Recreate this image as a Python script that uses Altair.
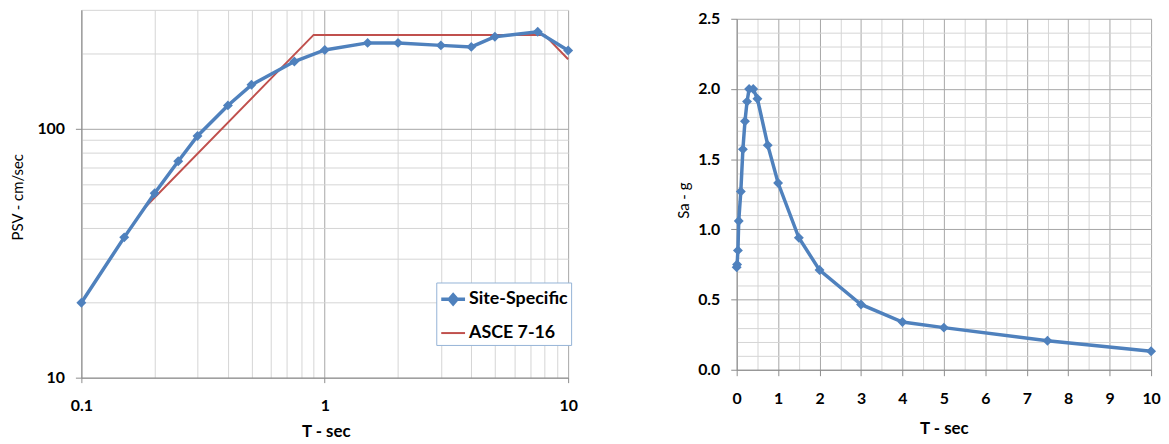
import altair as alt
import pandas as pd

# ---------------- data ----------------
series_names = ["Site-Specific", "ASCE 7-16"]
series_colors = ["#4f81bd", "#c0504d"]

# Left panel: pseudo-spectral velocity (cm/sec) vs period (sec)
t_psv = [0.1, 0.15, 0.2, 0.25, 0.3, 0.4, 0.5, 0.75, 1, 1.5, 2, 3, 4, 5, 7.5, 10]
psv_site = [20, 36.6, 55, 74, 93.5, 124, 150, 186, 207, 221, 221, 216, 213, 234, 245, 206]
t_asce = [0.18, 0.9, 8, 10]
psv_asce = [47.6, 238, 238, 190]

# Right panel: spectral acceleration (g) vs period (sec)
t_sa = [0.0, 0.01, 0.03, 0.05, 0.1, 0.15, 0.2, 0.25, 0.3, 0.4, 0.5, 0.75, 1, 1.5, 2, 3, 4, 5, 7.5, 10]
sa_site = [0.73, 0.75, 0.85, 1.06, 1.27, 1.57, 1.77, 1.91, 2.0, 2.0, 1.93, 1.60, 1.33, 0.94,
           0.71, 0.465, 0.34, 0.30, 0.207, 0.132]

# axis tick / grid values
left_x_ticks = [0.1, 0.2, 0.3, 0.4, 0.5, 0.6, 0.7, 0.8, 0.9, 1, 2, 3, 4, 5, 6, 7, 8, 9, 10]
left_y_ticks = [10, 20, 30, 40, 50, 60, 70, 80, 90, 100, 200, 300]
right_x_ticks = [i / 2 for i in range(21)]
right_y_ticks = [round(i / 10, 1) for i in range(26)]

df_site = pd.DataFrame({"T": t_psv, "PSV": psv_site, "series": series_names[0]})
df_asce = pd.DataFrame({"T": t_asce, "PSV": psv_asce, "series": series_names[1]})
df_left = pd.concat([df_site, df_asce], ignore_index=True)
df_right = pd.DataFrame({"T": t_sa, "Sa": sa_site})

# ---------------- styling ----------------
FONT = "Lato"
MAJOR = "#a6a6a6"
MINOR = "#d4d4d4"
DOMAIN = "#8c8c8c"
BLUE, RED = series_colors

LW, LH = 491, 371
RW, RH = 418, 354


def cond(test, a, b):
    return {"condition": {"test": test, "value": a}, "value": b}


left_xmaj = "datum.value == 0.1 || datum.value == 1 || datum.value == 10"
left_ymaj = "datum.value == 10 || datum.value == 100"
right_xmaj = "abs(datum.value - round(datum.value)) < 0.001"
right_ymaj = "abs(datum.value * 2 - round(datum.value * 2)) < 0.001"

common_axis = dict(
    labelFont=FONT, labelFontWeight="bold", labelColor="#000000",
    titleFont=FONT, titleColor="#000000", domainColor=DOMAIN, tickColor=DOMAIN,
    gridWidth=1, labelFlush=False, labelOverlap=False,
)

left_x = alt.X(
    "T:Q",
    scale=alt.Scale(type="log", domain=[0.1, 10], nice=False),
    axis=alt.Axis(
        values=left_x_ticks,
        labelExpr="datum.value == 0.1 ? '0.1' : datum.value == 1 ? '1' : datum.value == 10 ? '10' : ''",
        labelFontSize=cond(left_xmaj, 16, 0),
        gridColor=cond(left_xmaj, MAJOR, MINOR),
        tickOpacity=cond(left_xmaj, 1, 0),
        tickSize=5, labelPadding=15,
        title="T - sec", titleFontSize=17, titleFontWeight="bold",
        titleX=LW / 2 + 1, titleY=54, titleBaseline="middle", titleAlign="center",
        **common_axis,
    ),
)
left_y = alt.Y(
    "PSV:Q",
    scale=alt.Scale(type="log", domain=[10, 300], nice=False),
    axis=alt.Axis(
        values=left_y_ticks,
        labelExpr="datum.value == 10 ? '10' : datum.value == 100 ? '100' : ''",
        labelFontSize=cond(left_ymaj, 16, 0),
        gridColor=cond(left_ymaj, MAJOR, MINOR),
        tickOpacity=cond(left_ymaj, 1, 0),
        tickSize=6, labelPadding=11,
        title="PSV - cm/sec", titleFontSize=15, titleFontWeight="normal",
        titleX=-64.5, titleY=LH / 2 + 3, titleBaseline="middle", titleAlign="center", titleAngle=270,
        **common_axis,
    ),
)

legend_cfg = alt.Legend(
    title=None, orient="none", legendX=358, legendY=275, direction="vertical",
    padding=3, rowPadding=9, strokeColor="#95b3d7", fillColor="#ffffff",
    labelFont=FONT, labelFontSize=18, labelFontWeight="bold", labelColor="#000000",
    symbolSize=576, labelOffset=2,
)
shape_paths = [
    "M-1,0L1,0M-0.33,0L0,-0.38L0.33,0L0,0.38Z",
    "M-1,0L1,0",
]

site_line = alt.Chart(df_site).mark_line(color=BLUE, strokeWidth=3.5).encode(x=left_x, y=left_y)
site_pts = alt.Chart(df_site).mark_point(
    shape="diamond", filled=True, size=100, color=BLUE, opacity=1
).encode(x=left_x, y=left_y)
asce_line = alt.Chart(df_asce).mark_line(color=RED, strokeWidth=2).encode(x=left_x, y=left_y)

legend_layer = alt.Chart(df_left).transform_filter("false").mark_point(filled=True, opacity=1).encode(
    x=left_x, y=left_y,
    fill=alt.Fill("series:N", scale=alt.Scale(domain=series_names, range=series_colors), legend=legend_cfg),
    stroke=alt.Stroke("series:N", scale=alt.Scale(domain=series_names, range=series_colors), legend=legend_cfg),
    shape=alt.Shape("series:N", scale=alt.Scale(domain=series_names, range=shape_paths), legend=legend_cfg),
    strokeWidth=alt.StrokeWidth("series:N", scale=alt.Scale(domain=series_names, range=[3.5, 2]), legend=legend_cfg),
)

left = alt.layer(asce_line, site_line, site_pts, legend_layer).properties(width=LW, height=LH)

right_x = alt.X(
    "T:Q",
    scale=alt.Scale(domain=[0, 10], nice=False),
    axis=alt.Axis(
        values=right_x_ticks,
        labelExpr="abs(datum.value - round(datum.value)) < 0.001 ? format(datum.value, 'd') : ''",
        labelFontSize=cond(right_xmaj, 16, 0),
        gridColor=cond(right_xmaj, MAJOR, MINOR),
        tickOpacity=cond(right_xmaj, 1, 0),
        tickSize=6, labelPadding=15,
        title="T - sec", titleFontSize=17, titleFontWeight="bold",
        titleX=RW / 2, titleY=59, titleBaseline="middle", titleAlign="center",
        **common_axis,
    ),
)
right_y = alt.Y(
    "Sa:Q",
    scale=alt.Scale(domain=[0, 2.5], nice=False),
    axis=alt.Axis(
        values=right_y_ticks,
        labelExpr="abs(datum.value * 2 - round(datum.value * 2)) < 0.001 ? format(datum.value, '.1f') : ''",
        labelFontSize=cond(right_ymaj, 16, 0),
        gridColor=cond(right_ymaj, MAJOR, MINOR),
        tickOpacity=cond(right_ymaj, 1, 0),
        tickSize=6, labelPadding=11,
        title="Sa - g", titleFontSize=15, titleFontWeight="normal",
        titleX=-54, titleY=RH / 2 + 6, titleBaseline="middle", titleAlign="center", titleAngle=270,
        **common_axis,
    ),
)

sa_line = alt.Chart(df_right).mark_line(color=BLUE, strokeWidth=3.5).encode(x=right_x, y=right_y)
sa_pts = alt.Chart(df_right).mark_point(
    shape="diamond", filled=True, size=100, color=BLUE, opacity=1
).encode(x=right_x, y=right_y)

right = alt.layer(sa_line, sa_pts).properties(width=RW, height=RH)

# an empty strip above the right panel so that its plot sits a little lower
spacer = (
    alt.Chart(df_right)
    .transform_filter("false")
    .mark_point(opacity=0)
    .encode(x=alt.X("T:Q", axis=None), y=alt.Y("Sa:Q", axis=None))
    .properties(width=RW, height=1)
)
right_col = alt.vconcat(spacer, right, spacing=0)

chart = (
    alt.hconcat(left, right_col, spacing=99)
    .properties(padding={"left": 2, "top": 0, "right": 0, "bottom": 0}, background="#ffffff")
    .configure_view(strokeWidth=0)
)

chart.save("out.html", embed_options={"renderer": "svg", "actions": False})
